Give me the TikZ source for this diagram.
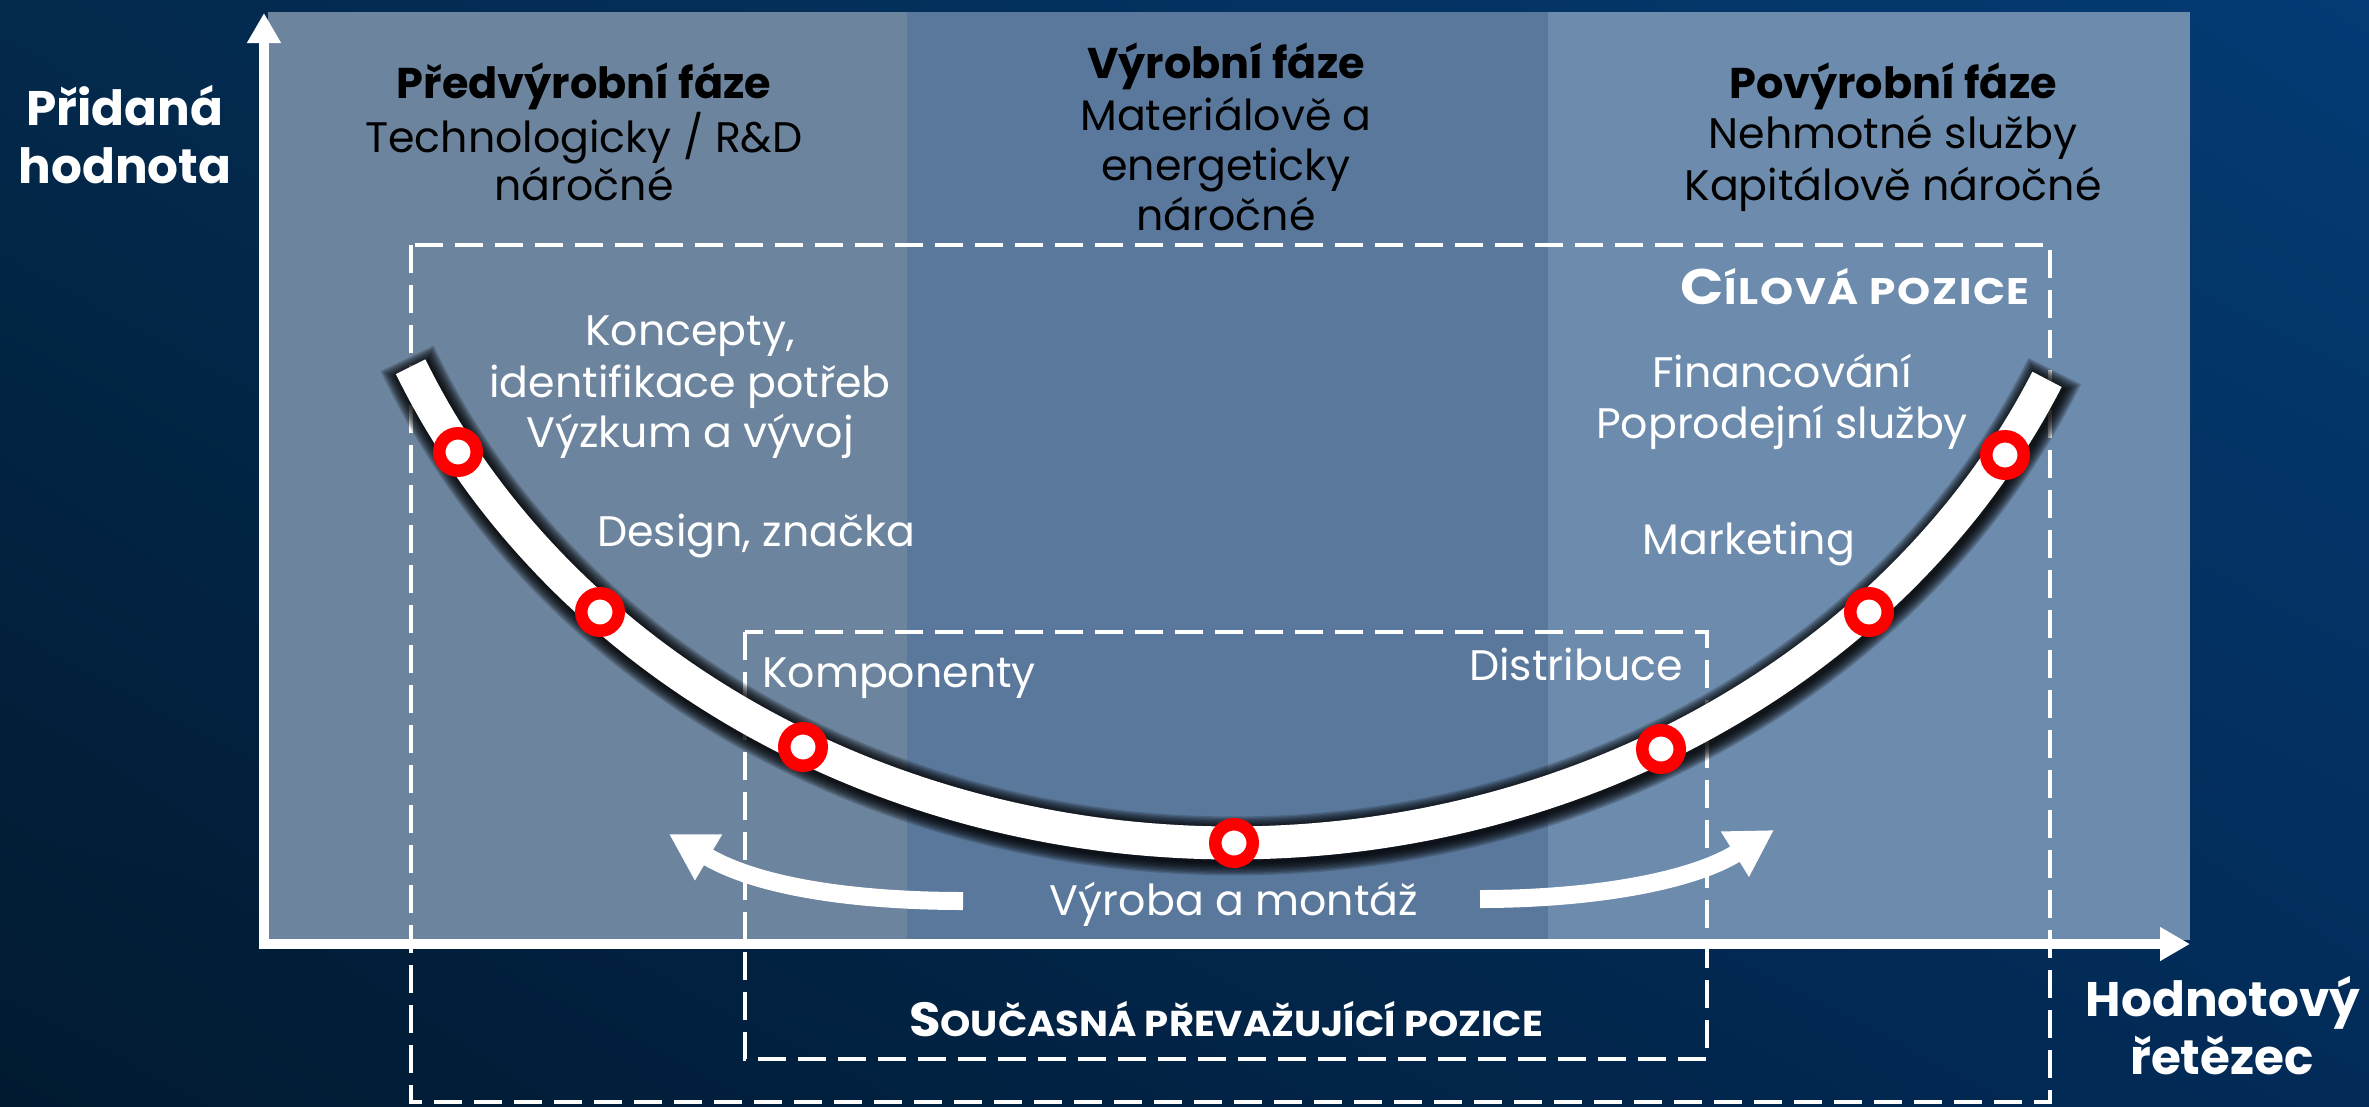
\documentclass[tikz,border=0pt]{standalone}
\usepackage{fontspec}
\usepackage{graphicx}
\setmainfont{Poppins}
\usetikzlibrary{arrows.meta,shadings}
\definecolor{bgTL}{HTML}{03294C}
\definecolor{bgTR}{HTML}{043B74}
\definecolor{bgBL}{HTML}{011A30}
\definecolor{bgBR}{HTML}{022B58}
\definecolor{colL}{HTML}{6C849D}
\definecolor{colM}{HTML}{5A789B}
\definecolor{colR}{HTML}{6D8BAC}
\newcommand{\scA}[2]{\scalebox{1.14}[1]{\addfontfeatures{LetterSpace=4}{\fontsize{50}{56}\selectfont #1}{\fontsize{37}{44}\selectfont #2}}}
\newcommand{\scB}[2]{\scalebox{1.07}[1]{{\fontsize{48}{56}\selectfont #1}{\fontsize{36}{44}\selectfont #2}}}
\tikzset{
  wt/.style={text=white, font=\fontsize{42.7}{50}\selectfont, inner sep=0pt, anchor=base},
  hb/.style={text=black, font=\bfseries\fontsize{43}{50}\selectfont, inner sep=0pt, anchor=base},
  hr/.style={text=black, font=\fontsize{42.7}{50}\selectfont, inner sep=0pt, anchor=base},
  axl/.style={text=white, font=\bfseries\fontsize{48.5}{56}\selectfont, inner sep=0pt, anchor=base},
  posl/.style={text=white, font=\bfseries, inner sep=0pt},
  dbox/.style={draw=white, line width=4pt, dash pattern=on 28pt off 12pt},
  ring/.style={circle, draw=red, line width=12.5pt, fill=white, minimum size=37.5pt, inner sep=0pt},
  axisarrow/.style={white, line width=10pt, -{Triangle[length=30pt,width=32pt]}},
  flowarrow/.style={white, line width=18pt, line cap=butt, -{Triangle[length=46pt,width=50pt]}},
}
\begin{document}
\begin{tikzpicture}[x=1pt,y=-1pt]
\useasboundingbox (0,0) rectangle (2369,1106);
\shade[upper left=bgTL, upper right=bgTR, lower left=bgBL, lower right=bgBR] (0,0) rectangle (2369,1106);
% panel columns
\fill[colL] (268,12) rectangle (907,940);
\fill[colM] (907,12) rectangle (1548,940);
\fill[colR] (1548,12) rectangle (2190,940);
% axes
\coordinate (O) at (264,944);
\coordinate (Ob) at (264,949);
\coordinate (Ol) at (259,944);
\coordinate (ytop) at (264,13);
\coordinate (xend) at (2190,944);
\draw[axisarrow] (Ob) -- (ytop);
\draw[axisarrow] (Ol) -- (xend);
% axis labels
\node[axl] (ya1) at (125,125) {Přidaná};
\node[axl] (ya2) at (125,183) {hodnota};
\node[axl] (xa1) at (2223,1016) {Hodnotový};
\node[axl] (xa2) at (2222,1074) {řetězec};
% column headers
\node[hb] (h1) at (584,98) {Předvýrobní fáze};
\node[hr] (h1a) at (584,152) {Technologicky / R\&D};
\node[hr] (h1b) at (584,200) {náročné};
\node[hb] (h2) at (1226,78) {Výrobní fáze};
\node[hr] (h2a) at (1226,130) {Materiálově a};
\node[hr] (h2b) at (1226,180) {energeticky};
\node[hr] (h2c) at (1226,230) {náročné};
\node[hb] (h3) at (1893,98) {Povýrobní fáze};
\node[hr] (h3a) at (1893,148) {Nehmotné služby};
\node[hr] (h3b) at (1893,200) {Kapitálově náročné};
% dashed boxes
\draw[dbox] (411,245) rectangle (2050,1102);
\draw[dbox] (745,632) rectangle (1707,1059);
\node[posl, anchor=base east] (cil) at (2030,304) {\scA{C}{ÍLOVÁ POZICE}};
\node[posl, anchor=base] (soc) at (1226,1036) {\scB{S}{OUČASNÁ PŘEVAŽUJÍCÍ POZICE}};
% smile curve with soft shadow
\foreach \k in {1,...,10}{
  \pgfmathsetmacro{\lw}{33+2.6*\k}
  \pgfmathsetmacro{\dA}{-66.6-0.09*\k}
  \pgfmathsetmacro{\dB}{65.6+0.09*\k}
  \draw[black, opacity=0.16, line width=\lw pt, shift={(2,3)}] plot[domain=\dA:\dB, samples=150] ({1232+895*sin(\x)},{53+790*cos(\x)});
}
\draw[white, line width=33pt, line cap=butt] plot[domain=-66.6:65.6, samples=150] ({1232+895*sin(\x)},{53+790*cos(\x)});
% points
\node[ring] (c1) at (458,452) {};
\node[ring] (c2) at (600,612) {};
\node[ring] (c3) at (803,747) {};
\node[ring] (c4) at (1234,843) {};
\node[ring] (c5) at (1661,749) {};
\node[ring] (c6) at (1869,612) {};
\node[ring] (c7) at (2005,455) {};
% labels
\node[wt] (t1a) at (690,345) {Koncepty,};
\node[wt] (t1b) at (690,397) {identifikace potřeb};
\node[wt] (t1c) at (690,447) {Výzkum a vývoj};
\node[wt, anchor=base west] (t2) at (597,546) {Design, značka};
\node[wt, anchor=base west] (t3) at (762,687) {Komponenty};
\node[wt] (t4) at (1234,915) {Výroba a montáž};
\node[wt, anchor=base east] (t5) at (1683,680) {Distribuce};
\node[wt] (t6) at (1749,554) {Marketing};
\node[wt] (t7a) at (1782,387) {Financování};
\node[wt] (t7b) at (1782,438) {Poprodejní služby};
% flow arrows
\coordinate (la) at (963,901);
\coordinate (lb) at (669,834);
\coordinate (ra) at (1480,899);
\coordinate (rb) at (1774,830);
\draw[flowarrow] (la) .. controls (860,901) and (760,888) .. (lb);
\draw[flowarrow] (ra) .. controls (1590,899) and (1690,882) .. (rb);
\end{tikzpicture}
\end{document}
